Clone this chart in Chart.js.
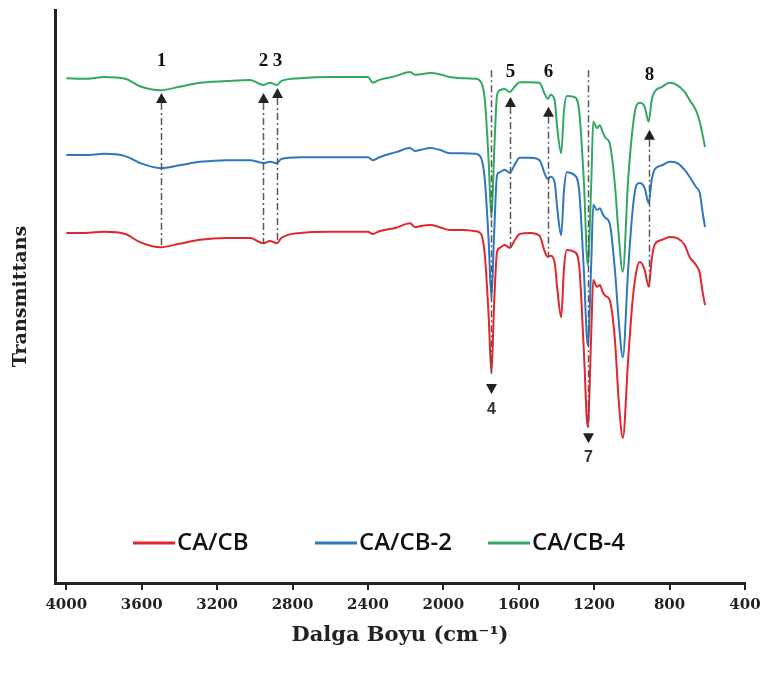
<!DOCTYPE html>
<html>
<head>
<meta charset="utf-8">
<script src="https://cdn.jsdelivr.net/npm/chart.js@4.4.0/dist/chart.umd.min.js"></script>
<style>
  html, body { margin: 0; padding: 0; background: #fff; }
  #wrap { width: 768px; height: 681px; }
</style>
</head>
<body>
<div id="wrap"><canvas id="ftir" width="768" height="681"></canvas></div>
<script>
// wavenumber grid (cm-1), shared by all three spectra
const wavenumbers = [4000,3900,3800,3687,3610,3500,3400,3290,3150,3025,2956,2920,2882,2860,2760,2600,2495,2400,2374,2340,
  2250,2177,2150,2120,2070,2020,1966,1900,1830,1800,1780,1760,1745,1730,1715,1700,1675,1648,1620,1595,
  1540,1490,1462,1446,1432,1410,1395,1375,1360,1345,1305,1280,1255,1234,1215,1205,1185,1170,1155,1140,
  1118,1090,1070,1048,1020,996,975,958,932,911,895,880,840,800,760,720,694,660,640,625,612];

// transmittance (arbitrary units, stacked)
const caCb = [61.1,61.1,61.3,60.9,59.5,58.6,59.2,59.9,60.2,60.2,59.3,59.7,59.3,60.2,61.1,61.3,61.3,61.3,60.9,61.4,
  62.0,62.8,62.1,62.3,62.5,62.1,61.6,61.6,61.4,60.9,57.2,46.8,36.6,49.4,57.8,58.5,59.0,58.5,59.9,60.9,
  61.1,60.6,57.8,56.9,57.1,56.0,51.1,46.4,55.0,58.1,57.8,55.5,40.7,27.2,44.2,52.9,51.7,52.0,50.8,50.1,
  49.4,42.4,31.9,25.3,38.9,49.4,54.6,56.0,54.6,51.7,56.4,59.0,59.9,60.4,60.2,59.0,56.9,55.5,54.1,50.8,48.5];

const caCb2 = [74.7,74.7,74.9,74.5,73.3,72.4,72.9,73.5,73.8,73.8,73.3,73.5,73.3,74.0,74.3,74.3,74.3,74.3,73.8,74.3,
  75.2,75.9,75.4,75.6,75.9,75.6,75.0,75.0,74.9,74.2,70.3,59.9,49.7,61.6,71.2,71.7,72.1,71.6,73.1,74.2,
  74.2,73.8,71.4,70.5,70.9,70.0,65.1,60.7,68.6,71.7,71.2,68.6,54.6,41.5,56.4,66.0,65.1,65.4,64.4,63.7,
  62.8,54.6,45.9,39.4,54.6,65.1,69.5,69.8,68.9,66.3,70.3,72.1,72.9,73.5,73.3,72.1,70.9,69.1,68.1,64.7,62.1];

const caCb4 = [88.1,88.0,88.3,88.0,86.7,86.0,86.6,87.3,87.6,87.8,86.9,87.3,86.9,87.6,88.1,88.3,88.3,88.3,87.3,87.8,
  88.5,89.2,88.7,88.8,89.0,88.8,88.3,88.1,88.0,87.4,84.3,73.8,63.7,75.6,85.2,86.0,86.2,85.7,86.7,87.4,
  87.4,87.3,85.3,84.5,85.2,84.3,79.1,75.0,82.5,85.0,84.8,82.5,70.3,55.5,70.3,80.5,79.4,79.9,78.7,77.7,
  76.8,69.5,60.7,54.3,70.3,79.4,83.4,83.8,83.1,80.5,84.3,85.7,86.6,87.3,86.9,85.7,84.3,82.5,80.5,78.2,76.1];

const seriesNames = ['CA/CB', 'CA/CB-2', 'CA/CB-4'];
const seriesColors = ['#e2252f', '#2f78bd', '#33a862'];
const xTicks = [4000, 3600, 3200, 2800, 2400, 2000, 1600, 1200, 800, 400];

// numbered peak markers
const peakLabels = ['1', '2', '3', '4', '5', '6', '7', '8'];
const peakWn = [3500, 2956, 2882, 1745, 1648, 1446, 1234, 911];
const peakDir = ['up', 'up', 'up', 'down', 'up', 'up', 'down', 'up'];
const peakLabelY = [91.1, 91.1, 91.1, 30.2, 89.2, 89.2, 21.8, 88.7];
const peakArrowY = [85.5, 85.5, 86.4, 33.0, 84.8, 83.1, 24.4, 79.1];
const peakLineFrom = [null, null, null, 89.5, null, null, 89.5, null];
const peakLineTo = [59.0, 59.3, 59.3, 36.6, 58.5, 56.9, 27.2, 51.7];

const toPoints = arr => wavenumbers.map((w, i) => ({ x: w, y: arr[i] }));

const markerPlugin = {
  id: 'markers',
  afterDatasetsDraw(chart) {
    const { ctx, scales: { x, y } } = chart;
    ctx.save();
    peakLabels.forEach((lab, i) => {
      const px = Math.round(x.getPixelForValue(peakWn[i])) + 0.5;
      const tip = y.getPixelForValue(peakArrowY[i]);
      const up = peakDir[i] === 'up';

      ctx.strokeStyle = '#5a5a5a';
      ctx.lineWidth = 1.5;
      ctx.setLineDash([7, 3, 2, 3]);
      ctx.beginPath();
      if (up) {
        ctx.moveTo(px, tip + 10);
      } else {
        ctx.moveTo(px, y.getPixelForValue(peakLineFrom[i]));
      }
      ctx.lineTo(px, y.getPixelForValue(peakLineTo[i]));
      ctx.stroke();
      ctx.setLineDash([]);

      const d = up ? 1 : -1;
      ctx.fillStyle = '#222';
      ctx.beginPath();
      ctx.moveTo(px, tip);
      ctx.lineTo(px - 5.5, tip + 10 * d);
      ctx.lineTo(px + 5.5, tip + 10 * d);
      ctx.closePath();
      ctx.fill();

      ctx.font = up ? 'bold 19px "Liberation Serif"' : 'bold 16px "Liberation Sans"';
      ctx.fillStyle = up ? '#111' : '#333';
      ctx.textAlign = 'center';
      ctx.textBaseline = 'middle';
      ctx.fillText(lab, px, y.getPixelForValue(peakLabelY[i]));
    });

    // legend inside the plot, near the bottom
    const legX = [133, 315, 488];
    const legY = 543;
    chart.data.datasets.forEach((ds, i) => {
      ctx.strokeStyle = ds.borderColor;
      ctx.lineWidth = 3;
      ctx.beginPath();
      ctx.moveTo(legX[i], legY);
      ctx.lineTo(legX[i] + 42, legY);
      ctx.stroke();
      ctx.fillStyle = '#111';
      ctx.font = '600 24px "Open Sans"';
      ctx.textAlign = 'left';
      ctx.textBaseline = 'middle';
      ctx.fillText(ds.label, legX[i] + 44, legY);
    });
    ctx.restore();
  }
};

new Chart(document.getElementById('ftir'), {
  type: 'line',
  data: {
    datasets: [caCb, caCb2, caCb4].map((arr, i) => ({
      label: seriesNames[i],
      data: toPoints(arr),
      borderColor: seriesColors[i],
      backgroundColor: seriesColors[i],
      borderWidth: 2,
      pointRadius: 0,
      cubicInterpolationMode: 'monotone',
      fill: false
    }))
  },
  options: {
    responsive: false,
    animation: false,
    layout: { padding: { top: 10, right: 23, left: 0, bottom: 0 } },
    plugins: { legend: { display: false }, tooltip: { enabled: false } },
    scales: {
      x: {
        type: 'linear',
        reverse: true,
        min: 400,
        max: 4060,
        afterFit: s => { s.height = 98; },
        afterBuildTicks: s => { s.ticks = xTicks.map(v => ({ value: v })); },
        grid: { display: true, drawOnChartArea: false, drawTicks: true, tickLength: 7, color: '#222', lineWidth: 2 },
        border: { display: true, color: '#222', width: 3 },
        ticks: {
          padding: 6,
          color: '#222',
          font: { family: 'DejaVu Serif', weight: 'bold', size: 15 },
          callback: v => String(v),
          maxRotation: 0
        },
        title: {
          display: true,
          text: 'Dalga Boyu (cm⁻¹)',
          color: '#222',
          font: { family: 'DejaVu Serif', weight: 'bold', size: 21 },
          padding: { top: 0, bottom: 33 }
        }
      },
      y: {
        min: 0,
        max: 100,
        afterFit: s => { s.width = 55; },
        grid: { display: false },
        border: { display: true, color: '#222', width: 3 },
        ticks: { display: false },
        title: {
          display: true,
          text: 'Transmittans',
          color: '#222',
          font: { family: 'DejaVu Serif', weight: 'bold', size: 19 },
          padding: { top: 10, bottom: 0 }
        }
      }
    }
  },
  plugins: [markerPlugin]
});
</script>
</body>
</html>
